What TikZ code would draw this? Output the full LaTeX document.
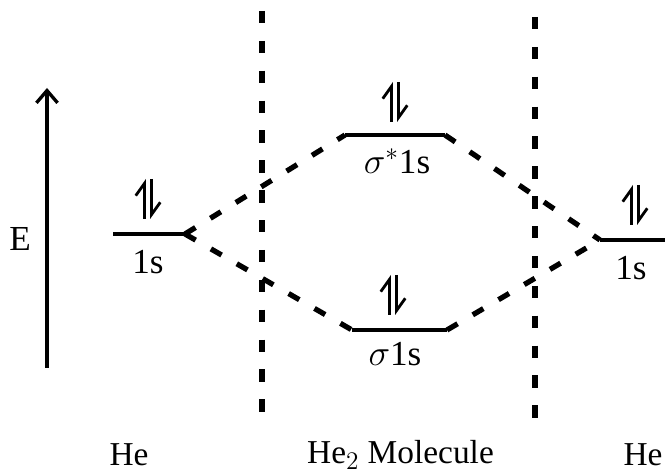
\documentclass[tikz,border=0pt]{standalone}
\usepackage{fontspec}
\setmainfont{Liberation Serif}
\usetikzlibrary{arrows.meta, positioning}

\begin{document}
\begin{tikzpicture}[>={Straight Barb[length=7pt, width=12pt]},
    level/.style={line width=2.2pt},
    link/.style={line width=3pt, dash pattern=on 7pt off 10pt},
    divider/.style={line width=3.2pt, dash pattern=on 7pt off 10pt},
    orblabel/.style={font=\fontsize{20}{22}\selectfont, inner sep=1pt},
    atomlabel/.style={font=\fontsize{19}{21}\selectfont, inner sep=1pt},
    pair/.pic={
      \draw[line width=1.6pt, -{Straight Barb[left, length=7pt, width=10pt]}] (-0.07,-0.40) -- (-0.07,0.40);
      \draw[line width=1.6pt, -{Straight Barb[left, length=7pt, width=10pt]}] (0.07,0.40) -- (0.07,-0.40);
    }]
    \useasboundingbox (0,0) rectangle (13.3,9.5);

    % Define level ends
    \coordinate (L1) at (2.26, 4.82);
    \coordinate (L2) at (3.70, 4.82);
    \coordinate (R1) at (12.0, 4.70);
    \coordinate (R2) at (13.3, 4.70);
    \coordinate (A1) at (6.90, 6.80);
    \coordinate (A2) at (8.90, 6.80);
    \coordinate (B1) at (7.04, 2.90);
    \coordinate (B2) at (8.94, 2.90);

    % Energy axis
    \coordinate (Ebot) at (0.94, 2.14);
    \coordinate (Etop) at (0.94, 7.74);
    \draw[->, line width=1.9pt] (Ebot) -- (Etop);
    \node[orblabel] (E) at (0.40, 4.72) {E};

    % Dividers
    \coordinate (D1t) at (5.24, 9.28);
    \coordinate (D1b) at (5.24, 0.98);
    \coordinate (D2t) at (10.70, 9.16);
    \coordinate (D2b) at (10.70, 0.90);
    \draw[divider] (D1t) -- (D1b);
    \draw[divider] (D2t) -- (D2b);

    % Levels
    \draw[level] (L1) -- (L2);
    \draw[level] (R1) -- (R2);
    \draw[level] (A1) -- (A2);
    \draw[level] (B1) -- (B2);

    % Electron pairs
    \pic at (2.96, 5.52) {pair};
    \pic at (7.90, 7.46) {pair};
    \pic at (7.86, 3.60) {pair};
    \pic at (12.70, 5.40) {pair};

    % Correlation lines
    \draw[link] (L2) -- (A1);
    \draw[link] (L2) -- (B1);
    \draw[link] (A2) -- (R1);
    \draw[link] (B2) -- (R1);

    % Labels
    \node[orblabel] (l1s) at (2.96, 4.26) {1s};
    \node[orblabel] (r1s) at (12.62, 4.14) {1s};
    \node[orblabel] (anti) at (7.94, 6.28) {$\sigma^{*}$1s};
    \node[orblabel] (bond) at (7.90, 2.42) {$\sigma$1s};
    \node[atomlabel] (heL) at (2.58, 0.40) {He};
    \node[atomlabel] (mol) at (8.01, 0.40) {He$_2$ Molecule};
    \node[atomlabel] (heR) at (12.86, 0.40) {He};
\end{tikzpicture}
\end{document}
